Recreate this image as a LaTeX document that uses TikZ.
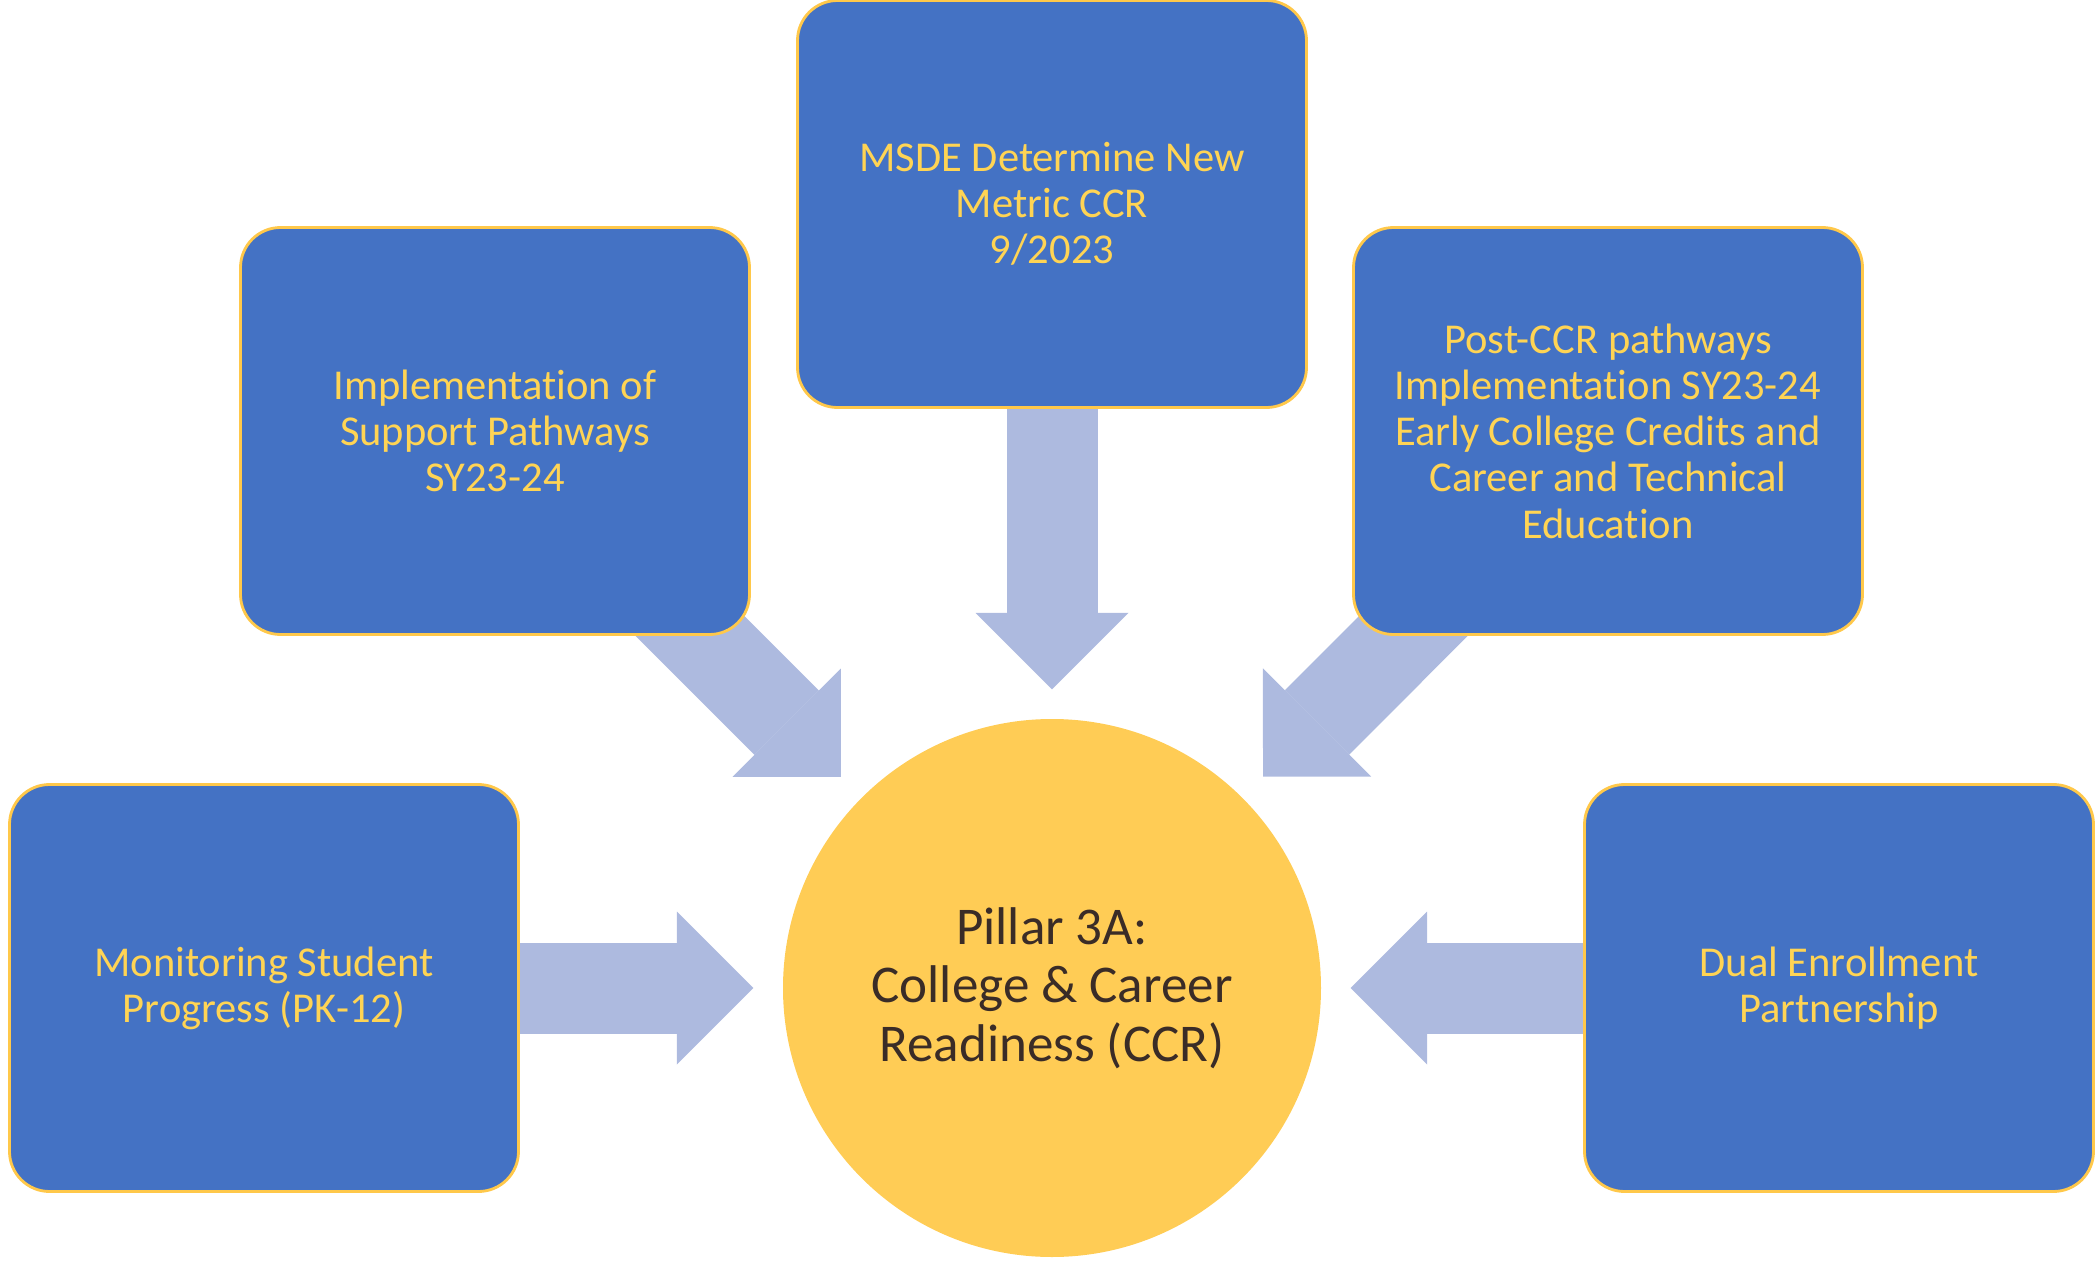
\documentclass[tikz,border=0pt]{standalone}
\usepackage{fontspec}
\setmainfont{Carlito}[Ligatures={NoCommon,NoContextual}]
\usetikzlibrary{calc}
\usetikzlibrary{positioning}
\usetikzlibrary{arrows.meta}
\usetikzlibrary{backgrounds}

\definecolor{boxblue}{HTML}{4472C4}
\definecolor{boxline}{HTML}{FFC84A}
\definecolor{boxtext}{HTML}{FFD454}
\definecolor{hubyellow}{HTML}{FFCC55}
\definecolor{hubtext}{HTML}{3A2C27}
\definecolor{arrowblue}{HTML}{ADBADF}

\begin{document}
\begin{tikzpicture}[%
  >={Triangle[width=1.53cm, length=0.765cm, line width=0pt]},
  box/.style={draw=boxline, line width=0.8pt, fill=boxblue,
    rounded corners=0.4cm, minimum width=5.09cm, minimum height=4.07cm,
    inner sep=0pt, align=center, text=boxtext,
    font=\fontsize{12.1}{13.15}\selectfont},
  hub/.style={circle, fill=hubyellow, minimum size=5.38cm, inner sep=0pt,
    align=center, text=hubtext, font=\fontsize{15.1}{16.6}\selectfont},
  fat/.style={->, draw=arrowblue, line width=0.91cm, shorten >=0.29cm},
]

  \useasboundingbox (0,0) rectangle (21,12.6);

  \node[hub] (ccr) at (10.52, 2.72) {Pillar 3A:\\College \& Career\\Readiness (CCR)};

  \node[box] (msde) at (10.52, 10.56) {MSDE Determine New\\Metric CCR\\9/2023};
  \node[box] (impl) at (4.95, 8.29) {Implementation of\\Support Pathways\\SY23-24};
  \node[box] (post) at (16.08, 8.29) {Post-CCR pathways\\Implementation SY23-24\\Early College Credits and\\Career and Technical\\Education};
  \node[box] (mon) at (2.64, 2.72) {Monitoring Student\\Progress (PK-12)};
  \node[box] (dual) at (18.39, 2.72) {Dual Enrollment\\Partnership};

  % arrows sit under the boxes
  \begin{scope}[on background layer]
    \draw[fat] (msde.center) -- (ccr);
    \draw[fat] (impl.center) -- (ccr);
    \draw[fat] (post.center) -- (ccr);
    \draw[fat] (mon.center) -- (ccr);
    \draw[fat] (dual.center) -- (ccr);
  \end{scope}

\end{tikzpicture}
\end{document}
